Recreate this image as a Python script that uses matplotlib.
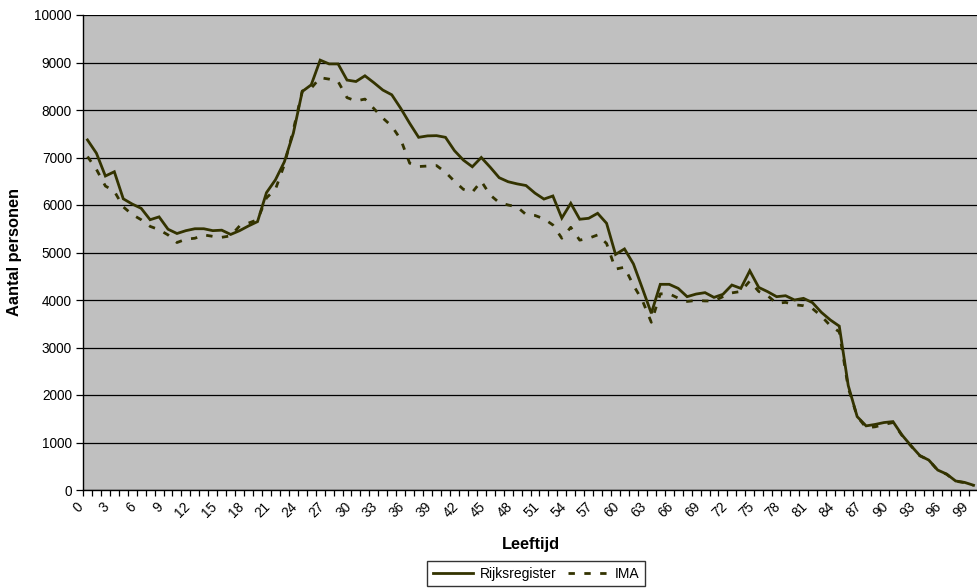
import matplotlib
matplotlib.use("Agg")
import matplotlib.pyplot as plt
from matplotlib.transforms import ScaledTranslation

plt.rcParams['font.family'] = ['Liberation Sans', 'DejaVu Sans']

ages = list(range(100))

rijksregister = [
    7370, 7090, 6610, 6700, 6130, 6020, 5930, 5690, 5750, 5490,
    5400, 5460, 5500, 5500, 5460, 5470, 5380, 5460, 5560, 5650,
    6260, 6530, 6910, 7510, 8390, 8530, 9050, 8970, 8970, 8630,
    8600, 8720, 8575, 8420, 8320, 8035, 7720, 7425, 7455, 7460,
    7425, 7145, 6945, 6805, 7000, 6795, 6575, 6490, 6445, 6410,
    6250, 6125, 6190, 5725, 6035, 5700, 5720, 5825, 5615, 4960,
    5075, 4760, 4245, 3720, 4330, 4330, 4245, 4070, 4125, 4155,
    4055, 4120, 4315, 4245, 4615, 4265, 4175, 4070, 4090, 4000,
    4035, 3945, 3740, 3580, 3450, 2200, 1545, 1350, 1380, 1420,
    1440, 1160, 935, 725, 630, 420, 335, 190, 160, 100,
]

ima = [
    7020, 6750, 6400, 6290, 5960, 5800, 5690, 5550, 5480, 5370,
    5210, 5280, 5300, 5370, 5340, 5320, 5350, 5560, 5620, 5690,
    6150, 6330, 6850, 7580, 8400, 8460, 8680, 8650, 8600, 8260,
    8190, 8230, 8030, 7830, 7660, 7380, 6880, 6810, 6820, 6830,
    6690, 6500, 6330, 6270, 6500, 6210, 6050, 6000, 5960, 5800,
    5780, 5710, 5580, 5300, 5530, 5260, 5300, 5370, 5190, 4650,
    4690, 4310, 3990, 3530, 4130, 4130, 4040, 3970, 3990, 3980,
    3980, 4070, 4150, 4180, 4400, 4180, 4090, 3930, 3950, 3900,
    3880, 3820, 3660, 3460, 3330, 2150, 1550, 1310, 1330, 1380,
    1420, 1150, 930, 720, 630, 415, 330, 185, 155, 95,
]

series_labels = ["Rijksregister", "IMA"]
x_title = "Leeftijd"
y_title = "Aantal personen"
y_ticks = list(range(0, 10001, 1000))
x_label_ages = list(range(0, 100, 3))

line_color = "#333300"

fig = plt.figure(figsize=(9.78, 5.88), dpi=100)
ax = fig.add_axes([83 / 978, 1 - 490 / 588, 1 - 83 / 978, (490 - 15) / 588])
ax.set_facecolor("#C0C0C0")

ax.plot(ages, rijksregister, color=line_color, lw=2.0, solid_joinstyle="miter",
        label=series_labels[0], zorder=3)
ax.plot(ages, ima, color=line_color, lw=2.0, linestyle=(0, (2.3, 3.4)),
        label=series_labels[1], zorder=3)

ax.set_xlim(-0.5, len(ages) - 0.5)
ax.set_ylim(0, 10000)

# horizontal gridlines
ax.set_yticks(y_ticks)
ax.set_yticklabels([str(v) for v in y_ticks], fontsize=9.8)
ax.yaxis.grid(True, color="black", lw=0.9)
ax.set_axisbelow(True)

# category boundaries carry the tick marks, labels sit on the categories
ax.set_xticks([k - 0.5 for k in range(len(ages) + 1)])
ax.set_xticklabels([])
ax.set_xticks(x_label_ages, minor=True)
ax.set_xticklabels([str(a) for a in x_label_ages], minor=True,
                   rotation=45, ha="right", va="top", fontsize=9.8)
ax.tick_params(axis="x", which="major", length=4, width=0.9, direction="out", color="black")
ax.tick_params(axis="x", which="minor", length=0, pad=7)
ax.tick_params(axis="y", length=5, width=0.9, direction="out", pad=3)
for lab in ax.get_xticklabels(minor=True):
    lab.set_transform(lab.get_transform() + ScaledTranslation(-2 / 100, 0, fig.dpi_scale_trans))

for side in ("top", "right"):
    ax.spines[side].set_visible(False)
for side in ("left", "bottom"):
    ax.spines[side].set_color("black")
    ax.spines[side].set_linewidth(1.0)

ax.set_xlabel(x_title, fontsize=11.8, fontweight="bold", labelpad=12)
ax.set_ylabel(y_title, fontsize=11.8, fontweight="bold", labelpad=9)

leg = fig.legend(loc="upper center", bbox_to_anchor=(536 / 978, 1 - 561 / 588),
                 ncol=2, fontsize=10, frameon=True, fancybox=False,
                 handlelength=2.9, handletextpad=0.5, columnspacing=0.8,
                 borderpad=0.4, borderaxespad=0)
leg.get_frame().set_edgecolor("black")
leg.get_frame().set_linewidth(1.0)

fig.savefig("out.png", dpi=100)
